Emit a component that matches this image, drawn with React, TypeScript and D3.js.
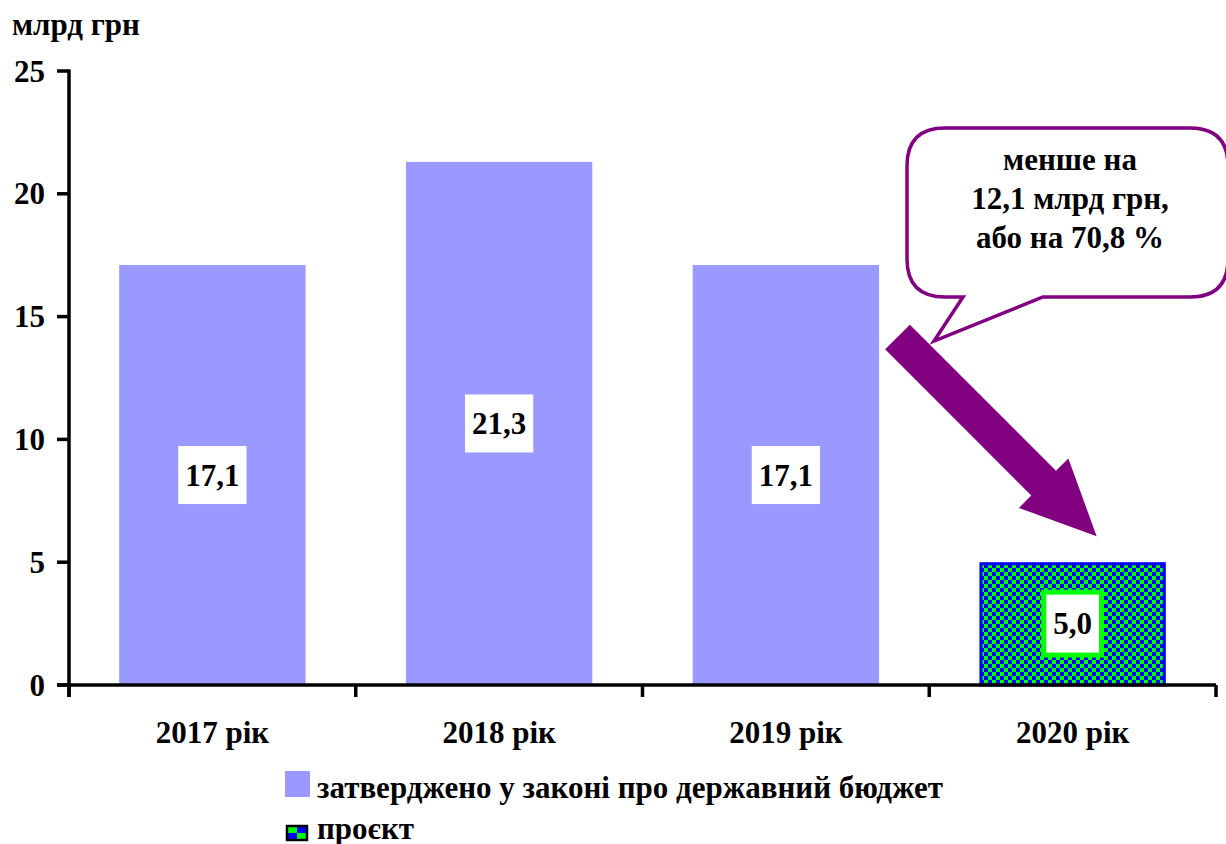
import React from "react";
import * as d3 from "d3";

const categories = ["2017 рік", "2018 рік", "2019 рік", "2020 рік"];
const approved = [17.1, 21.3, 17.1, null];
const draft = [null, null, null, 5.0];
const yTicks = [0, 5, 10, 15, 20, 25];
const unitLabel = "млрд грн";
const legendLabels = ["затверджено у законі про державний бюджет", "проєкт"];
const calloutLines = ["менше на", "12,1 млрд грн,", "або на 70,8 %"];

const W = 1226;
const H = 844;
const PURPLE = "#800080";
const FS = 31;
const txt = { fontFamily: "Liberation Serif", fontWeight: "bold", fontSize: FS, fill: "#000" } as const;

const plotL = 69, plotR = 1216, plotT = 71, plotB = 685;
const x = d3.scaleBand<string>().domain(categories).range([plotL, plotR]).paddingInner(0.35).paddingOuter(0.175);
const y = d3.scaleLinear().domain([0, 25]).range([plotB, plotT]);
const fmt = (v: number) => d3.format(".1f")(v).replace(".", ",");
// rough advance widths of bold serif digits and comma, in em
const textWidth = (s: string) => s.split("").reduce((a, ch) => a + (ch === "," ? 0.25 : 0.5), 0) * FS;

function bubblePath() {
  const bx0 = 907, by0 = 128, bx1 = 1228, by1 = 297, r = 38;
  const p = d3.path();
  p.moveTo(bx0 + r, by0);
  p.lineTo(bx1 - r, by0);
  p.quadraticCurveTo(bx1, by0, bx1, by0 + r);
  p.lineTo(bx1, by1 - r);
  p.quadraticCurveTo(bx1, by1, bx1 - r, by1);
  p.lineTo(1043, by1);
  p.lineTo(934, 341);
  p.lineTo(963, by1);
  p.lineTo(bx0 + r, by1);
  p.quadraticCurveTo(bx0, by1, bx0, by1 - r);
  p.lineTo(bx0, by0 + r);
  p.quadraticCurveTo(bx0, by0, bx0 + r, by0);
  p.closePath();
  return p.toString();
}

function arrowPoints() {
  const sx = 897.5, sy = 337;
  const tx = x(categories[3])! + x.bandwidth() / 2 + 24, ty = y(draft[3]!) - 26;
  const dx = tx - sx, dy = ty - sy, len = Math.hypot(dx, dy);
  const ux = dx / len, uy = dy / len, nx = -uy, ny = ux;
  const sw = 17.5, hw = 35, hl = 75;
  const bxp = tx - ux * hl, byp = ty - uy * hl;
  const pts: [number, number][] = [
    [sx + nx * sw, sy + ny * sw],
    [bxp + nx * sw, byp + ny * sw],
    [bxp + nx * hw, byp + ny * hw],
    [tx, ty],
    [bxp - nx * hw, byp - ny * hw],
    [bxp - nx * sw, byp - ny * sw],
    [sx - nx * sw, sy - ny * sw],
  ];
  return pts.map((q) => q.join(",")).join(" ");
}

export default function App() {
  const xEdges = [plotL, ...categories.map((c, i) =>
    i === categories.length - 1 ? plotR : x(c)! + x.bandwidth() + (x.step() * x.paddingInner()) / 2)];

  return (
    <svg width={W} height={H} style={{ position: "absolute", left: 0, top: 0, background: "#fff" }}>
      <defs>
        <pattern id="checker" patternUnits="userSpaceOnUse" width={8} height={8}>
          <rect width={8} height={8} fill="#0000ff" />
          <rect width={4} height={4} fill="#00ff00" />
          <rect x={4} y={4} width={4} height={4} fill="#00ff00" />
        </pattern>
      </defs>

      {/* approved budget bars */}
      {categories.map((c, i) => {
        const v = approved[i];
        if (v == null) return null;
        return <rect key={c} x={x(c)} y={y(v)} width={x.bandwidth()} height={y(0) - y(v)} fill="#9999ff" />;
      })}
      {/* draft bar */}
      {categories.map((c, i) => {
        const v = draft[i];
        if (v == null) return null;
        return (
          <rect key={c} x={x(c)! + 1.5} y={y(v) + 1.5} width={x.bandwidth() - 3} height={y(0) - y(v) - 1.5}
            fill="url(#checker)" stroke="#0000ff" strokeWidth={3} />
        );
      })}

      {/* value labels */}
      {categories.map((c, i) => {
        const v = approved[i] ?? draft[i];
        if (v == null) return null;
        const s = fmt(v);
        const cx = x(c)! + x.bandwidth() / 2;
        const cy = (y(v) + y(0)) / 2;
        const bw = textWidth(s) + 14, bh = 58;
        return (
          <g key={c}>
            {draft[i] != null && (
              <rect x={cx - bw / 2 - 5} y={cy - bh / 2 - 5} width={bw + 10} height={bh + 10} fill="#00ff00" />
            )}
            <rect x={cx - bw / 2} y={cy - bh / 2} width={bw} height={bh} fill="#fff" />
            <text x={cx} y={cy + 10.5} textAnchor="middle" {...txt}>{s}</text>
          </g>
        );
      })}

      {/* axes */}
      <g stroke="#000" strokeWidth={3.5}>
        <line x1={plotL} x2={plotL} y1={y(25) - 1.5} y2={plotB + 12} />
        <line x1={plotL - 12} x2={plotR} y1={plotB} y2={plotB} />
        {yTicks.map((t) => <line key={t} x1={plotL - 12} x2={plotL} y1={y(t)} y2={y(t)} />)}
        {xEdges.map((e, i) => <line key={i} x1={e} x2={e} y1={plotB} y2={plotB + 12} />)}
      </g>

      {yTicks.map((t) => (
        <text key={t} x={45} y={y(t) + 10.5} textAnchor="end" {...txt}>{t}</text>
      ))}
      {categories.map((c) => (
        <text key={c} x={x(c)! + x.bandwidth() / 2} y={743} textAnchor="middle" {...txt}>{c}</text>
      ))}
      <text x={12} y={35} {...txt}>{unitLabel}</text>

      {/* legend */}
      <rect x={285} y={771} width={25} height={26} fill="#9999ff" />
      <text x={317} y={798} {...txt}>{legendLabels[0]}</text>
      <g transform="translate(287,826)">
        <rect width={20} height={14} fill="#0000ff" />
        <rect width={10} height={7} fill="#00ff00" />
        <rect x={10} y={7} width={10} height={7} fill="#00ff00" />
        <rect width={20} height={14} fill="none" stroke="#000" strokeWidth={2.5} />
      </g>
      <text x={317} y={839} {...txt}>{legendLabels[1]}</text>

      {/* callout */}
      <path d={bubblePath()} fill="#fff" stroke={PURPLE} strokeWidth={3.5} />
      {calloutLines.map((l, i) => (
        <text key={i} x={1070} y={170 + i * 39} textAnchor="middle" {...txt}>{l}</text>
      ))}

      {/* arrow from the 2019 bar down to the 2020 bar */}
      <polygon points={arrowPoints()} fill={PURPLE} />
    </svg>
  );
}
